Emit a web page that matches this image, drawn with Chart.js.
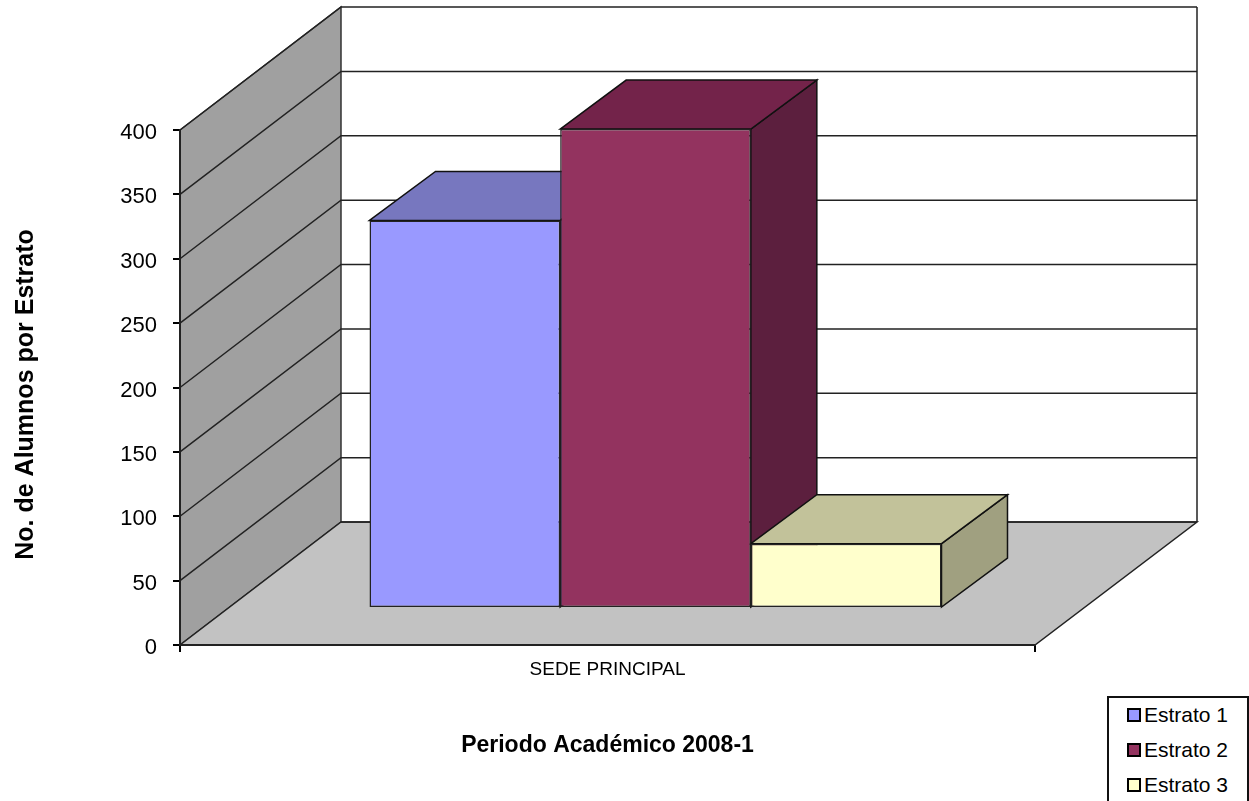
<!DOCTYPE html>
<html>
<head>
<meta charset="utf-8">
<style>
  html, body { margin: 0; padding: 0; background: #fff; overflow: hidden; }
  #wrap { position: relative; width: 1249px; height: 801px; overflow: hidden; }
  #legend { position: absolute; left: 1107px; top: 696px; width: 138px; height: 120px; border: 2px solid #111; background: #fff;
    font: 21px "Liberation Sans", Arial, sans-serif; color: #000; }
  #legend .row { position: absolute; left: 18px; height: 24px; line-height: 24px; white-space: nowrap; }
  #legend i { display: inline-block; box-sizing: border-box; width: 14px; height: 14px; border: 2px solid #000; margin-right: 3px; vertical-align: 0; }
</style>
</head>
<body>
<div id="wrap">
  <canvas id="chart" width="1249" height="801"></canvas>
  <div id="legend"></div>
</div>
<script src="https://cdn.jsdelivr.net/npm/chart.js@4.4.1/dist/chart.umd.min.js"></script>
<script>
const categories = ['SEDE PRINCIPAL'];
const seriesNames = ['Estrato 1', 'Estrato 2', 'Estrato 3'];
const estrato1 = [301];
const estrato2 = [372];
const estrato3 = [50];
const frontColors = ['#9999FF', '#93335F', '#FFFFCC'];
const topColors = ['#7777BF', '#73234A', '#C2C29A'];
const sideColors = ['#5F5F9F', '#5C1F3E', '#A0A080'];
const yTicks = [0, 50, 100, 150, 200, 250, 300, 350, 400];

// fake 3D offsets, px
const wallDepth = { x: 162, y: -123 };
const barShift = { x: 48, y: -37 };
const barDepth = { x: 66, y: -49 };

const fontFamily = '"Liberation Sans", Arial, sans-serif';

function poly(ctx, pts, fill, stroke) {
  ctx.beginPath();
  pts.forEach((p, i) => i ? ctx.lineTo(p[0], p[1]) : ctx.moveTo(p[0], p[1]));
  ctx.closePath();
  if (fill) { ctx.fillStyle = fill; ctx.fill(); }
  if (stroke) { ctx.strokeStyle = stroke; ctx.lineWidth = 1.5; ctx.stroke(); }
}

const box3d = {
  id: 'box3d',
  beforeDraw(chart) {
    const { ctx, chartArea: a, scales: { y } } = chart;
    const dx = wallDepth.x, dy = wallDepth.y;
    ctx.save();
    // side wall + floor
    poly(ctx, [[a.left, a.bottom], [a.left + dx - 1, a.bottom + dy], [a.left + dx - 1, a.top + dy], [a.left, a.top]], '#A0A0A0', '#333');
    poly(ctx, [[a.left, a.bottom], [a.right, a.bottom], [a.right + dx, a.bottom + dy], [a.left + dx - 1, a.bottom + dy]], '#C2C2C2', '#222');
    // gridlines run along the side wall and the back wall
    ctx.strokeStyle = '#222';
    ctx.lineWidth = 1.5;
    yTicks.forEach(v => {
      const py = y.getPixelForValue(v);
      ctx.beginPath();
      if (v > 0) ctx.moveTo(a.left, py); else ctx.moveTo(a.left + dx - 1, py + dy);
      ctx.lineTo(a.left + dx - 1, py + dy);
      ctx.lineTo(a.right + dx, py + dy);
      ctx.stroke();
    });
    // wall right edge
    ctx.beginPath();
    ctx.moveTo(a.right + dx, a.top + dy);
    ctx.lineTo(a.right + dx, a.bottom + dy);
    ctx.stroke();
    ctx.restore();
  },
  beforeDatasetsDraw(chart) {
    const { ctx } = chart;
    ctx.save();
    ctx.translate(barShift.x, barShift.y);
    const dx = barDepth.x, dy = barDepth.y;
    chart.data.datasets.forEach((ds, i) => {
      const bar = chart.getDatasetMeta(i).data[0];
      const l = bar.x - bar.width / 2, r = bar.x + bar.width / 2;
      poly(ctx, [[r, bar.y], [r + dx, bar.y + dy], [r + dx, bar.base + dy], [r, bar.base]], sideColors[i], '#111');
      poly(ctx, [[l, bar.y], [l + dx, bar.y + dy], [r + dx, bar.y + dy], [r, bar.y]], topColors[i], '#111');
    });
  },
  afterDatasetsDraw(chart) {
    chart.ctx.restore();
  }
};

const chart = new Chart(document.getElementById('chart'), {
  type: 'bar',
  data: {
    labels: categories,
    datasets: [
      { label: seriesNames[0], data: estrato1, backgroundColor: frontColors[0] },
      { label: seriesNames[1], data: estrato2, backgroundColor: frontColors[1] },
      { label: seriesNames[2], data: estrato3, backgroundColor: frontColors[2] }
    ].map(d => ({ ...d, borderColor: '#222', borderWidth: 1.5, borderSkipped: false, clip: false, barPercentage: 1, categoryPercentage: 0.669 }))
  },
  plugins: [box3d],
  options: {
    responsive: false,
    animation: false,
    events: [],
    layout: { padding: { left: 0, top: 130, right: 214, bottom: 0 } },
    plugins: { legend: { display: false }, title: { display: false }, tooltip: { enabled: false } },
    scales: {
      x: {
        afterFit(s) { s.height = 156; },
        grid: { drawOnChartArea: false, drawTicks: true, tickLength: 7, color: '#000', lineWidth: 2 },
        border: { display: true, color: '#222', width: 2 },
        ticks: { color: '#000', padding: 6, font: { size: 19, family: fontFamily } },
        title: { display: true, text: 'Periodo Académico 2008-1', color: '#000', padding: { bottom: 42 }, font: { size: 23, weight: 'bold', family: fontFamily } }
      },
      y: {
        min: 0,
        max: 400,
        afterFit(s) { s.width = 180; },
        afterBuildTicks(s) { s.ticks = yTicks.map(v => ({ value: v })); },
        grid: { drawOnChartArea: false, drawTicks: true, tickLength: 7, color: '#000', lineWidth: 2 },
        border: { display: true, color: '#222', width: 2 },
        ticks: { color: '#000', padding: 16, labelOffset: 3, font: { size: 22, family: fontFamily } },
        // trailing spaces push the centred text down to where the reference has it
        title: { display: true, text: 'No. de Alumnos por Estrato  ', color: '#000', padding: { top: 11 }, font: { size: 25, weight: 'bold', family: fontFamily } }
      }
    }
  }
});

// legend box sits at the bottom right, partly cut off by the page edge
document.getElementById('legend').innerHTML = chart.data.datasets.map((d, i) =>
  `<div class="row" style="top:${5 + i * 35}px"><i style="background:${d.backgroundColor}"></i>${d.label}</div>`).join('');
</script>
</body>
</html>
